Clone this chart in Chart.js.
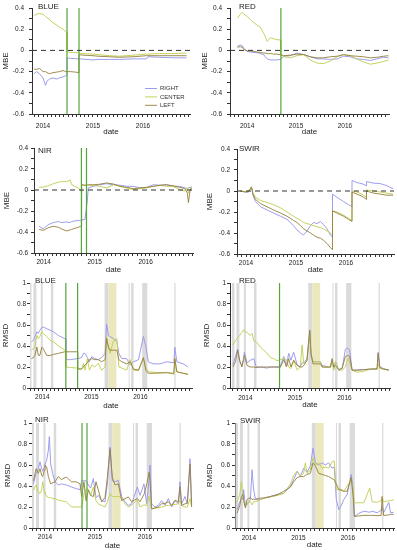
<!DOCTYPE html>
<html>
<head>
<meta charset="utf-8">
<script src="https://cdn.jsdelivr.net/npm/chart.js@4.4.1/dist/chart.umd.min.js"></script>
<style>
  html, body { margin: 0; padding: 0; background: #fff; }
  #page { position: relative; width: 397px; height: 550px; overflow: hidden; background: #fff; }
  #page canvas { position: absolute; }
</style>
</head>
<body>
<div id="page"></div>
<script>
// ---------- series / labels ----------
const SERIES = ['RIGHT', 'CENTER', 'LEFT'];
const SERIES_COLORS = ['rgba(152,152,238,0.95)', 'rgba(194,208,86,0.95)', 'rgba(150,128,60,0.9)'];
const YEAR_LABELS = [2014, 2015, 2016];

// vertical green markers (decimal years)
const GREEN_BLUE = [2014.48, 2014.72];
const GREEN_RED = [2014.69];
const GREEN_NIR = [2014.74, 2014.84];

// shaded periods in RMSD panels (decimal years)
const GRAY_BANDS = [[2013.73, 2013.78], [2013.82, 2013.88], [2013.97, 2014.01], [2014.175, 2014.225],
  [2015.27, 2015.35], [2015.76, 2015.78], [2015.81, 2015.86], [2016.035, 2016.14], [2016.69, 2016.715]];
const YELLOW_BANDS = [[2015.35, 2015.51]];

// ---------- MBE BLUE ----------
const BLUE_MBE_T = [2013.82, 2013.87, 2013.93, 2014.0, 2014.03, 2014.05, 2014.08, 2014.13, 2014.2, 2014.27, 2014.33, 2014.4, 2014.45, 2014.48, 2014.48, 2014.55, 2014.65, 2014.72, 2014.72, 2014.8, 2015.0, 2015.1, 2015.33, 2015.53, 2015.8, 2016.07, 2016.1, 2016.33, 2016.6, 2016.87];
const BLUE_MBE_RIGHT = [-0.22, -0.2, -0.22, -0.26, -0.3, -0.33, -0.29, -0.27, -0.26, -0.27, -0.26, -0.25, -0.24, -0.23, -0.07, -0.075, -0.078, -0.08, -0.08, -0.082, -0.09, -0.085, -0.085, -0.085, -0.08, -0.08, -0.06, -0.065, -0.07, -0.07];
const BLUE_MBE_CENTER = [0.33, 0.34, 0.35, 0.34, 0.33, 0.32, 0.31, 0.29, 0.26, 0.24, 0.22, 0.20, 0.18, 0.17, -0.01, -0.02, -0.02, -0.025, -0.025, -0.03, -0.035, -0.04, -0.05, -0.055, -0.045, -0.035, -0.035, -0.03, -0.03, -0.025];
const BLUE_MBE_LEFT = [-0.175, -0.18, -0.17, -0.2, -0.2, -0.2, -0.21, -0.22, -0.21, -0.205, -0.2, -0.19, -0.2, -0.2, -0.2, -0.2, -0.205, -0.21, -0.04, -0.045, -0.05, -0.055, -0.06, -0.065, -0.06, -0.05, -0.05, -0.05, -0.05, -0.05];

// ---------- MBE RED ----------
const RED_MBE_T = [2013.80, 2013.86, 2013.90, 2013.93, 2014.0, 2014.07, 2014.14, 2014.2, 2014.27, 2014.34, 2014.37, 2014.41, 2014.44, 2014.48, 2014.54, 2014.61, 2014.68, 2014.69, 2014.69, 2014.75, 2014.88, 2015.02, 2015.16, 2015.29, 2015.43, 2015.56, 2015.70, 2015.84, 2015.97, 2016.11, 2016.24, 2016.38, 2016.52, 2016.65, 2016.79, 2016.89];
const RED_MBE_RIGHT = [0.04, 0.05, 0.045, 0.02, -0.01, -0.015, -0.02, -0.02, -0.03, -0.04, -0.06, -0.08, -0.085, -0.09, -0.09, -0.09, -0.085, -0.085, -0.085, -0.055, -0.05, -0.025, -0.04, -0.06, -0.08, -0.08, -0.085, -0.08, -0.055, -0.06, -0.08, -0.085, -0.095, -0.08, -0.065, -0.07];
const RED_MBE_CENTER = [0.305, 0.34, 0.36, 0.345, 0.32, 0.29, 0.26, 0.24, 0.22, 0.16, 0.13, 0.085, 0.10, 0.12, 0.11, 0.10, 0.10, 0.10, -0.04, -0.06, -0.07, -0.05, -0.04, -0.09, -0.12, -0.125, -0.1, -0.06, -0.04, -0.05, -0.08, -0.11, -0.13, -0.12, -0.105, -0.09];
const RED_MBE_LEFT = [0.03, 0.035, 0.03, 0.01, -0.005, -0.005, -0.01, -0.015, -0.02, -0.025, -0.025, -0.03, -0.03, -0.03, -0.035, -0.035, -0.04, -0.04, -0.04, -0.05, -0.045, -0.035, -0.04, -0.06, -0.07, -0.07, -0.06, -0.055, -0.04, -0.05, -0.055, -0.06, -0.07, -0.065, -0.055, -0.05];

// ---------- MBE NIR ----------
const NIR_MBE_T = [2013.91, 2013.99, 2014.09, 2014.19, 2014.29, 2014.35, 2014.45, 2014.52, 2014.55, 2014.61, 2014.68, 2014.725, 2014.745, 2014.745, 2014.81, 2014.855, 2014.875, 2014.97, 2015.10, 2015.23, 2015.37, 2015.50, 2015.63, 2015.76, 2015.89, 2016.02, 2016.15, 2016.28, 2016.41, 2016.54, 2016.67, 2016.77, 2016.82, 2016.84, 2016.87, 2016.90];
const NIR_MBE_RIGHT = [-0.345, -0.37, -0.33, -0.31, -0.3, -0.31, -0.305, -0.31, -0.3, -0.295, -0.29, -0.29, -0.285, -0.285, -0.28, -0.11, 0.02, 0.035, 0.05, 0.06, 0.05, 0.045, 0.035, 0.035, 0.02, 0.025, 0.05, 0.045, 0.05, 0.035, 0.035, 0.02, 0.015, 0.02, 0.025, 0.025];
const NIR_MBE_CENTER = [0.025, 0.028, 0.04, 0.06, 0.075, 0.08, 0.08, 0.095, 0.05, 0.035, 0.02, -0.006, -0.02, 0.05, 0.045, 0.05, 0.045, 0.045, 0.035, 0.02, 0.05, 0.035, 0.02, 0.003, 0.013, 0.02, 0.035, 0.045, 0.035, 0.035, 0.003, -0.01, 0.02, -0.03, 0.003, 0.035];
const NIR_MBE_LEFT = [-0.375, -0.385, -0.36, -0.345, -0.355, -0.37, -0.39, -0.38, -0.375, -0.365, -0.355, -0.345, -0.34, 0.05, 0.045, 0.045, 0.05, 0.05, 0.055, 0.067, 0.057, 0.035, 0.025, 0.013, 0.02, 0.025, 0.035, 0.045, 0.05, 0.04, 0.025, 0.013, -0.03, -0.12, -0.013, 0.02];

// ---------- MBE SWIR ----------
const SWIR_MBE_T = [2013.89, 2013.99, 2014.05, 2014.11, 2014.14, 2014.19, 2014.29, 2014.42, 2014.55, 2014.69, 2014.82, 2014.95, 2015.02, 2015.09, 2015.15, 2015.22, 2015.29, 2015.35, 2015.42, 2015.49, 2015.55, 2015.62, 2015.69, 2015.73, 2015.73, 2015.82, 2015.95, 2016.05, 2016.12, 2016.12, 2016.22, 2016.32, 2016.41, 2016.41, 2016.55, 2016.69, 2016.82, 2016.94];
const SWIR_MBE_RIGHT = [0, -0.01, -0.01, 0.035, -0.04, -0.1, -0.15, -0.18, -0.21, -0.24, -0.27, -0.33, -0.37, -0.4, -0.42, -0.38, -0.33, -0.3, -0.31, -0.29, -0.32, -0.36, -0.42, -0.44, -0.03, -0.06, -0.1, -0.13, -0.15, 0.1, 0.08, 0.07, 0.05, 0.09, 0.075, 0.07, 0.05, 0.02];
const SWIR_MBE_CENTER = [0, -0.005, 0, 0.035, -0.02, -0.06, -0.09, -0.11, -0.13, -0.16, -0.2, -0.24, -0.26, -0.28, -0.3, -0.31, -0.32, -0.33, -0.34, -0.35, -0.36, -0.38, -0.4, -0.42, -0.19, -0.2, -0.23, -0.26, -0.28, 0, -0.01, -0.03, -0.06, 0.01, 0, -0.01, -0.02, -0.03];
const SWIR_MBE_LEFT = [0, -0.01, -0.005, 0.04, -0.03, -0.08, -0.12, -0.15, -0.18, -0.21, -0.24, -0.28, -0.3, -0.33, -0.36, -0.38, -0.4, -0.42, -0.44, -0.45, -0.47, -0.5, -0.54, -0.56, -0.19, -0.21, -0.24, -0.27, -0.29, -0.01, -0.03, -0.05, -0.08, 0, -0.02, -0.03, -0.04, -0.04];

// ---------- RMSD BLUE ----------
const BLUE_RMSD_T = [2013.78, 2013.82, 2013.85, 2013.89, 2013.92, 2013.95, 2013.99, 2014.02, 2014.09, 2014.16, 2014.23, 2014.33, 2014.46, 2014.48, 2014.48, 2014.57, 2014.72, 2014.72, 2014.80, 2014.84, 2014.87, 2014.92, 2014.96, 2015.01, 2015.07, 2015.14, 2015.21, 2015.28, 2015.31, 2015.35, 2015.38, 2015.45, 2015.52, 2015.56, 2015.62, 2015.72, 2015.79, 2015.86, 2015.96, 2016.06, 2016.11, 2016.16, 2016.26, 2016.40, 2016.53, 2016.68, 2016.70, 2016.74, 2016.87, 2016.97];
const BLUE_RMSD_RIGHT = [0.44, 0.455, 0.49, 0.535, 0.52, 0.55, 0.575, 0.58, 0.565, 0.55, 0.535, 0.50, 0.47, 0.47, 0.27, 0.27, 0.28, 0.28, 0.29, 0.33, 0.33, 0.29, 0.25, 0.3, 0.28, 0.27, 0.29, 0.33, 0.61, 0.5, 0.49, 0.47, 0.44, 0.33, 0.28, 0.28, 0.22, 0.25, 0.27, 0.49, 0.4, 0.25, 0.23, 0.23, 0.25, 0.24, 0.39, 0.25, 0.23, 0.2];
const BLUE_RMSD_CENTER = [0.36, 0.375, 0.39, 0.50, 0.47, 0.49, 0.535, 0.52, 0.49, 0.455, 0.44, 0.40, 0.36, 0.36, 0.20, 0.195, 0.19, 0.19, 0.18, 0.235, 0.17, 0.28, 0.17, 0.22, 0.2, 0.235, 0.17, 0.2, 0.49, 0.38, 0.33, 0.45, 0.47, 0.2, 0.19, 0.17, 0.27, 0.17, 0.165, 0.28, 0.2, 0.155, 0.15, 0.14, 0.15, 0.13, 0.28, 0.155, 0.14, 0.13];
const BLUE_RMSD_LEFT = [0.28, 0.29, 0.31, 0.39, 0.31, 0.31, 0.39, 0.375, 0.31, 0.31, 0.32, 0.33, 0.345, 0.345, 0.345, 0.345, 0.345, 0.18, 0.18, 0.2, 0.22, 0.24, 0.27, 0.28, 0.27, 0.27, 0.25, 0.27, 0.47, 0.39, 0.36, 0.36, 0.36, 0.27, 0.25, 0.23, 0.25, 0.18, 0.17, 0.29, 0.17, 0.14, 0.14, 0.145, 0.145, 0.14, 0.28, 0.155, 0.14, 0.13];

// ---------- RMSD RED ----------
const RED_RMSD_T = [2013.75, 2013.80, 2013.845, 2013.885, 2013.93, 2013.965, 2013.98, 2014.035, 2014.10, 2014.135, 2014.17, 2014.22, 2014.30, 2014.37, 2014.44, 2014.505, 2014.57, 2014.64, 2014.705, 2014.775, 2014.83, 2014.875, 2014.92, 2014.975, 2015.045, 2015.11, 2015.145, 2015.18, 2015.245, 2015.30, 2015.325, 2015.365, 2015.515, 2015.55, 2015.715, 2015.75, 2015.785, 2015.82, 2015.885, 2015.955, 2016.02, 2016.065, 2016.105, 2016.155, 2016.255, 2016.39, 2016.525, 2016.66, 2016.68, 2016.715, 2016.79, 2016.895];
const RED_RMSD_RIGHT = [0.22, 0.3, 0.37, 0.25, 0.215, 0.28, 0.34, 0.24, 0.265, 0.27, 0.28, 0.2, 0.2, 0.195, 0.19, 0.2, 0.2, 0.2, 0.205, 0.3, 0.215, 0.33, 0.265, 0.34, 0.22, 0.2, 0.24, 0.24, 0.28, 0.55, 0.31, 0.25, 0.25, 0.215, 0.195, 0.26, 0.185, 0.25, 0.17, 0.185, 0.37, 0.38, 0.36, 0.17, 0.17, 0.175, 0.18, 0.185, 0.34, 0.2, 0.185, 0.17];
const RED_RMSD_CENTER = [0.41, 0.45, 0.48, 0.5, 0.53, 0.555, 0.54, 0.53, 0.5, 0.52, 0.45, 0.44, 0.39, 0.36, 0.33, 0.29, 0.28, 0.26, 0.27, 0.28, 0.27, 0.2, 0.185, 0.26, 0.17, 0.2, 0.41, 0.23, 0.26, 0.53, 0.33, 0.25, 0.25, 0.2, 0.195, 0.25, 0.17, 0.25, 0.17, 0.17, 0.2, 0.28, 0.25, 0.17, 0.15, 0.16, 0.18, 0.18, 0.23, 0.185, 0.18, 0.17];
const RED_RMSD_LEFT = [0.2, 0.25, 0.36, 0.265, 0.2, 0.27, 0.31, 0.215, 0.2, 0.2, 0.2, 0.195, 0.2, 0.2, 0.2, 0.2, 0.2, 0.2, 0.195, 0.27, 0.2, 0.28, 0.2, 0.265, 0.215, 0.2, 0.2, 0.215, 0.265, 0.55, 0.33, 0.23, 0.23, 0.2, 0.2, 0.28, 0.2, 0.215, 0.175, 0.19, 0.3, 0.31, 0.3, 0.17, 0.17, 0.175, 0.18, 0.18, 0.33, 0.195, 0.18, 0.17];

// ---------- RMSD NIR ----------
const NIR_RMSD_T = [2013.77, 2013.82, 2013.867, 2013.90, 2013.933, 2013.953, 2013.987, 2014.0, 2014.033, 2014.067, 2014.087, 2014.113, 2014.153, 2014.20, 2014.267, 2014.327, 2014.427, 2014.53, 2014.627, 2014.70, 2014.733, 2014.78, 2014.82, 2014.867, 2014.913, 2014.967, 2015.02, 2015.067, 2015.133, 2015.20, 2015.247, 2015.30, 2015.347, 2015.40, 2015.467, 2015.533, 2015.60, 2015.667, 2015.733, 2015.80, 2015.847, 2015.90, 2015.98, 2016.033, 2016.08, 2016.10, 2016.133, 2016.20, 2016.267, 2016.333, 2016.40, 2016.467, 2016.533, 2016.60, 2016.667, 2016.70, 2016.733, 2016.80, 2016.847, 2016.90, 2016.933];
const NIR_RMSD_RIGHT = [0.42, 0.52, 0.565, 0.63, 0.565, 0.54, 0.58, 0.61, 0.645, 0.74, 0.87, 0.61, 0.52, 0.44, 0.41, 0.42, 0.41, 0.39, 0.375, 0.365, 0.45, 0.45, 0.45, 0.41, 0.38, 0.47, 0.29, 0.31, 0.26, 0.25, 0.42, 0.77, 0.45, 0.44, 0.455, 0.3, 0.25, 0.215, 0.23, 0.325, 0.39, 0.31, 0.42, 0.23, 0.45, 0.6, 0.23, 0.2, 0.215, 0.26, 0.215, 0.28, 0.2, 0.26, 0.23, 0.44, 0.23, 0.3, 0.23, 0.66, 0.23];
const NIR_RMSD_CENTER = [0.36, 0.41, 0.34, 0.33, 0.36, 0.44, 0.345, 0.33, 0.3, 0.29, 0.29, 0.29, 0.28, 0.28, 0.265, 0.26, 0.25, 0.2, 0.2, 0.2, 0.2, 0.33, 0.37, 0.37, 0.31, 0.39, 0.26, 0.23, 0.215, 0.2, 0.25, 0.33, 0.3, 0.3, 0.3, 0.29, 0.23, 0.2, 0.215, 0.25, 0.265, 0.2, 0.22, 0.215, 0.3, 0.25, 0.18, 0.19, 0.195, 0.2, 0.21, 0.215, 0.22, 0.225, 0.23, 0.26, 0.215, 0.2, 0.2, 0.28, 0.2];
const NIR_RMSD_LEFT = [0.45, 0.565, 0.52, 0.565, 0.5, 0.49, 0.55, 0.6, 0.58, 0.49, 0.46, 0.42, 0.43, 0.44, 0.49, 0.46, 0.485, 0.44, 0.44, 0.42, 0.3, 0.44, 0.26, 0.36, 0.31, 0.3, 0.44, 0.36, 0.25, 0.29, 0.48, 0.755, 0.48, 0.41, 0.42, 0.26, 0.28, 0.295, 0.25, 0.27, 0.28, 0.25, 0.32, 0.41, 0.53, 0.45, 0.185, 0.19, 0.2, 0.23, 0.235, 0.25, 0.215, 0.265, 0.25, 0.39, 0.215, 0.23, 0.24, 0.61, 0.2];

// ---------- RMSD SWIR ----------
const SWIR_RMSD_T = [2013.76, 2013.815, 2013.85, 2013.88, 2013.895, 2013.93, 2013.96, 2014.03, 2014.065, 2014.095, 2014.13, 2014.23, 2014.30, 2014.435, 2014.57, 2014.705, 2014.84, 2014.905, 2014.975, 2015.04, 2015.105, 2015.14, 2015.175, 2015.24, 2015.295, 2015.345, 2015.41, 2015.48, 2015.545, 2015.61, 2015.68, 2015.725, 2015.765, 2015.815, 2015.86, 2015.915, 2015.985, 2016.065, 2016.105, 2016.13, 2016.22, 2016.32, 2016.44, 2016.49, 2016.59, 2016.67, 2016.69, 2016.72, 2016.825, 2016.86, 2016.925];
const SWIR_RMSD_RIGHT = [0.175, 0.25, 0.28, 0.28, 0.365, 0.21, 0.22, 0.27, 0.555, 0.37, 0.28, 0.27, 0.285, 0.3, 0.32, 0.33, 0.4, 0.46, 0.54, 0.49, 0.57, 0.55, 0.53, 0.59, 0.76, 0.62, 0.6, 0.62, 0.6, 0.62, 0.57, 0.58, 0.27, 0.175, 0.21, 0.27, 0.32, 0.51, 0.37, 0.11, 0.14, 0.16, 0.15, 0.16, 0.145, 0.17, 0.2, 0.145, 0.245, 0.145, 0.15];
const SWIR_RMSD_CENTER = [0.24, 0.32, 0.44, 0.3, 0.28, 0.21, 0.24, 0.25, 0.22, 0.25, 0.25, 0.27, 0.285, 0.295, 0.31, 0.33, 0.42, 0.5, 0.54, 0.5, 0.52, 0.62, 0.52, 0.55, 0.67, 0.6, 0.62, 0.57, 0.58, 0.57, 0.63, 0.64, 0.365, 0.37, 0.37, 0.35, 0.4, 0.46, 0.37, 0.24, 0.24, 0.24, 0.38, 0.25, 0.245, 0.26, 0.285, 0.25, 0.26, 0.26, 0.27];
const SWIR_RMSD_LEFT = [0.14, 0.21, 0.3, 0.32, 0.26, 0.19, 0.27, 0.29, 0.27, 0.275, 0.27, 0.285, 0.285, 0.3, 0.315, 0.35, 0.39, 0.44, 0.48, 0.49, 0.49, 0.5, 0.51, 0.52, 0.62, 0.59, 0.52, 0.51, 0.5, 0.49, 0.47, 0.46, 0.42, 0.365, 0.36, 0.35, 0.35, 0.48, 0.3, 0.11, 0.115, 0.12, 0.12, 0.12, 0.117, 0.12, 0.3, 0.12, 0.125, 0.13, 0.13];

// ---------- panel layout (page pixels) ----------
const FONT = '"Liberation Sans", Arial, Helvetica, sans-serif';
const PANELS = [
  { name: 'BLUE', kind: 'MBE', t: BLUE_MBE_T, s: [BLUE_MBE_RIGHT, BLUE_MBE_CENTER, BLUE_MBE_LEFT], green: GREEN_BLUE, legend: true,
    col: 0, plot: { l: 32, r: 190, t: 8, b: 114 }, xr: [2013.78, 2016.94], dateY: 132, yTitleX: 6, xPad: 5, yPad: 5, lab: [6, 1] },
  { name: 'RED', kind: 'MBE', t: RED_MBE_T, s: [RED_MBE_RIGHT, RED_MBE_CENTER, RED_MBE_LEFT], green: GREEN_RED,
    col: 1, plot: { l: 230, r: 389, t: 8, b: 114 }, xr: [2013.65, 2016.90], dateY: 132, yTitleX: 205, xPad: 5, yPad: 5, lab: [9, 1] },
  { name: 'NIR', kind: 'MBE', t: NIR_MBE_T, s: [NIR_MBE_RIGHT, NIR_MBE_CENTER, NIR_MBE_LEFT], green: GREEN_NIR,
    col: 0, plot: { l: 34, r: 193, t: 148, b: 253 }, xr: [2013.81, 2016.93], dateY: 270, yTitleX: 7, xPad: 2, yPad: 3, lab: [4, 5] },
  { name: 'SWIR', kind: 'MBE', t: SWIR_MBE_T, s: [SWIR_MBE_RIGHT, SWIR_MBE_CENTER, SWIR_MBE_LEFT], green: [],
    col: 1, plot: { l: 237, r: 394, t: 149, b: 254 }, xr: [2013.82, 2016.96], dateY: 270, yTitleX: 210, xPad: 2, yPad: 4, lab: [2, 2] },
  { name: 'BLUE', kind: 'RMSD', t: BLUE_RMSD_T, s: [BLUE_RMSD_RIGHT, BLUE_RMSD_CENTER, BLUE_RMSD_LEFT], green: GREEN_BLUE,
    col: 0, plot: { l: 30, r: 192, t: 283, b: 388 }, xr: [2013.75, 2017.05], dateY: 406, yTitleX: 6, xPad: 2.5, yPad: 1, lab: [5, 0] },
  { name: 'RED', kind: 'RMSD', t: RED_RMSD_T, s: [RED_RMSD_RIGHT, RED_RMSD_CENTER, RED_RMSD_LEFT], green: GREEN_RED,
    col: 1, plot: { l: 230, r: 390, t: 283, b: 388 }, xr: [2013.69, 2016.92], dateY: 405, yTitleX: 207, xPad: 3.5, yPad: 1, lab: [9, 0] },
  { name: 'NIR', kind: 'RMSD', t: NIR_RMSD_T, s: [NIR_RMSD_RIGHT, NIR_RMSD_CENTER, NIR_RMSD_LEFT], green: GREEN_NIR,
    col: 0, plot: { l: 32, r: 193, t: 423, b: 528 }, xr: [2013.74, 2016.96], dateY: 546, yTitleX: 8, xPad: 2, yPad: 2, lab: [3, -1] },
  { name: 'SWIR', kind: 'RMSD', t: SWIR_RMSD_T, s: [SWIR_RMSD_RIGHT, SWIR_RMSD_CENTER, SWIR_RMSD_LEFT], green: [],
    col: 1, plot: { l: 235, r: 394, t: 423, b: 528 }, xr: [2013.72, 2016.93], dateY: 545, yTitleX: 210, xPad: 3.5, yPad: 2, lab: [5, 0] }
];

// ---------- plugins ----------
const bandPlugin = {
  id: 'bands',
  beforeDatasetsDraw(chart, args, opts) {
    if (!opts.show) return;
    const { ctx, chartArea: a, scales: { x } } = chart;
    ctx.save();
    ctx.beginPath();
    ctx.rect(a.left, a.top, a.right - a.left, a.bottom - a.top);
    ctx.clip();
    const draw = (list, color) => list.forEach(([s, e]) => {
      const x1 = x.getPixelForValue(s), x2 = x.getPixelForValue(e);
      ctx.fillStyle = color;
      ctx.fillRect(x1, a.top, Math.max(x2 - x1, 1), a.bottom - a.top);
    });
    draw(GRAY_BANDS, '#dadada');
    draw(YELLOW_BANDS, '#ebe8bd');
    ctx.restore();
  }
};

const labelPlugin = {
  id: 'panelLabel',
  afterDraw(chart, args, opts) {
    const { ctx, chartArea: a } = chart;
    ctx.save();
    ctx.font = '8px ' + FONT;
    ctx.fillStyle = '#222';
    ctx.textBaseline = 'alphabetic';
    ctx.fillText(opts.text, a.left + opts.dx, a.top + opts.dy);
    ctx.restore();
  }
};

const legendPlugin = {
  id: 'miniLegend',
  afterDatasetsDraw(chart, args, opts) {
    if (!opts.show) return;
    const { ctx, chartArea: a } = chart;
    ctx.save();
    ctx.font = '6px ' + FONT;
    ctx.textBaseline = 'middle';
    SERIES.forEach((name, i) => {
      const x = a.left + 113, y = a.top + 80.5 + i * 8.4;
      ctx.strokeStyle = SERIES_COLORS[i];
      ctx.lineWidth = 1;
      ctx.beginPath(); ctx.moveTo(x, y); ctx.lineTo(x + 12, y); ctx.stroke();
      ctx.fillStyle = '#333';
      ctx.fillText(name, x + 15, y);
    });
    ctx.restore();
  }
};

// ---------- build charts ----------
const page = document.getElementById('page');

PANELS.forEach(p => {
  const yr = p.kind === 'MBE' ? [-0.6, 0.4] : [0, 1];
  const cx = p.col * 198, cy = p.plot.t - 10;
  const cw = p.col ? 199 : 198, ch = p.dateY + 6 - cy;

  const canvas = document.createElement('canvas');
  canvas.width = cw; canvas.height = ch;
  canvas.style.left = cx + 'px'; canvas.style.top = cy + 'px';
  canvas.style.width = cw + 'px'; canvas.style.height = ch + 'px';
  page.appendChild(canvas);

  const datasets = [];
  // zero reference for MBE
  if (p.kind === 'MBE') {
    datasets.push({ data: [{ x: p.xr[0], y: 0 }, { x: p.xr[1], y: 0 }], borderColor: '#333', borderWidth: 1, borderDash: [5, 4], pointRadius: 0, order: 0 });
  }
  // green markers
  if (p.green.length) {
    const pts = [];
    p.green.forEach(g => { pts.push({ x: g, y: yr[0] }, { x: g, y: yr[1] }, { x: g, y: null }); });
    datasets.push({ data: pts, borderColor: '#55a63a', borderWidth: 1.2, pointRadius: 0, spanGaps: false, order: 1 });
  }
  SERIES.forEach((name, i) => {
    datasets.push({
      label: name,
      data: p.t.map((t, k) => ({ x: t, y: p.s[i][k] })),
      borderColor: SERIES_COLORS[i], borderWidth: 1, pointRadius: 0, tension: 0,
      order: 4 - i
    });
  });

  new Chart(canvas, {
    type: 'line',
    data: { datasets },
    plugins: [bandPlugin, labelPlugin, legendPlugin],
    options: {
      responsive: false, animation: false, devicePixelRatio: 1,
      layout: { padding: { top: 10, right: cx + cw - p.plot.r, bottom: 0, left: 0 } },
      plugins: {
        legend: { display: false }, tooltip: { enabled: false },
        bands: { show: p.kind === 'RMSD' },
        panelLabel: { text: p.name, dx: p.lab[0], dy: p.lab[1] },
        miniLegend: { show: !!p.legend }
      },
      scales: {
        x: {
          type: 'linear', min: p.xr[0], max: p.xr[1],
          afterFit: s => { s.height = cy + ch - p.plot.b; },
          afterBuildTicks: s => {
            const ticks = [];
            for (let m = Math.ceil(s.min * 12 - 1e-6); m <= s.max * 12 + 1e-6; m++) ticks.push({ value: m / 12 });
            s.ticks = ticks;
          },
          ticks: {
            autoSkip: false, maxRotation: 0, padding: p.xPad, color: '#222',
            font: { family: FONT, size: 6.5 },
            callback: v => { const y = Math.round(v); return Math.abs(v - y) < 1e-6 && YEAR_LABELS.includes(y) ? String(y) : ''; }
          },
          grid: { drawOnChartArea: false, drawTicks: true, tickLength: 3, color: '#333' },
          border: { display: true, color: '#333', width: 1 },
          title: { display: true, text: 'date', color: '#222', font: { family: FONT, size: 8 }, padding: { top: 0, bottom: 6 - 4.8 } }
        },
        y: {
          type: 'linear', min: yr[0], max: yr[1],
          afterFit: s => { s.width = p.plot.l - cx; },
          afterBuildTicks: s => {
            const ticks = [];
            for (let k = Math.round(s.min * 10); k <= Math.round(s.max * 10); k++) ticks.push({ value: k / 10 });
            s.ticks = ticks;
          },
          ticks: {
            autoSkip: false, padding: p.yPad, color: '#222',
            font: { family: FONT, size: 6.5 },
            callback: v => { const k = Math.round(v * 10); return k % 2 === 0 ? String(k / 10) : ''; }
          },
          grid: { drawOnChartArea: false, drawTicks: true, tickLength: 3, color: '#333' },
          border: { display: true, color: '#333', width: 1 },
          title: { display: true, text: p.kind, color: '#222', font: { family: FONT, size: 8 }, padding: { top: p.yTitleX - cx - 4.8, bottom: 0 } }
        }
      }
    }
  });
});
</script>
</body>
</html>
